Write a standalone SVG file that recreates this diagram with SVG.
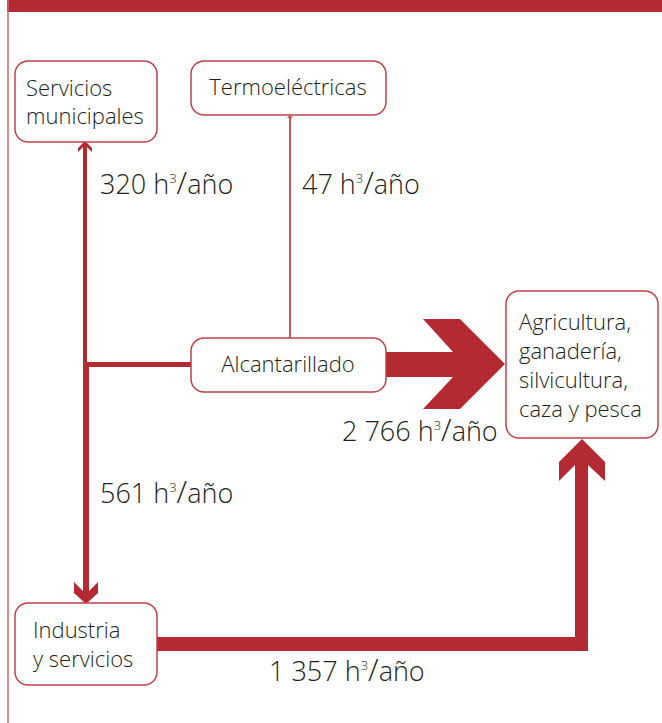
<svg xmlns="http://www.w3.org/2000/svg" width="662" height="723" viewBox="0 0 662 723">
<style>
.box{fill:#fff;stroke:#c0424a;stroke-width:1.5}
.t{font-family:"Open Sans","Noto Sans","Liberation Sans",sans-serif;font-weight:300;font-size:22px;fill:#231f20}
.lbl{font-family:"Open Sans","Noto Sans","Liberation Sans",sans-serif;font-weight:300;font-size:27px;fill:#231f20}
.sup{font-size:13px}
.sl{font-size:31px}
.flow{fill:#b32a33}
.thin{fill:#c9545a}
</style>
<rect x="0" y="0" width="662" height="723" fill="#fff"/>
<rect x="7" y="0" width="655" height="12" fill="#b32a33"/>
<line x1="8" y1="0" x2="8" y2="723" stroke="#d0646a" stroke-width="1.5"/>
<g id="connectors">
  <rect class="flow" x="83" y="146" width="4" height="221"/>
  <polygon class="flow" points="85,141 92,148 92,152 87,147 83,147 78,152 78,148"/>
  <rect class="flow" x="83" y="362" width="108" height="5"/>
  <rect class="flow" x="83" y="362" width="6" height="234"/>
  <polygon class="flow" points="74,582 83,591 89,591 98,582 98,593 86,604 74,593"/>
  <rect class="thin" x="289" y="117" width="2" height="221"/>
  <polygon class="thin" points="290,115 293,118 287,118"/>
  <polygon class="flow" points="386,352 453,352 423,319 460,319 505,364 460,409 423,409 453,377 386,377"/>
  <polygon class="flow" points="157,637 575,637 575,465 559,481 559,462 582,439 605,462 605,481 588,465 588,651 157,651"/>
</g>
<g id="servicios">
  <rect class="box" x="15" y="61" width="142" height="81" rx="13"/>
  <text class="t" x="26" y="96">Servicios</text>
  <text class="t" x="26" y="124">municipales</text>
</g>
<g id="termo">
  <rect class="box" x="191" y="61" width="195" height="54" rx="13"/>
  <text class="t" x="288" y="95" text-anchor="middle">Termoeléctricas</text>
</g>
<g id="alcantarillado">
  <rect class="box" x="191" y="338" width="195" height="54" rx="13"/>
  <text class="t" x="288" y="372" text-anchor="middle">Alcantarillado</text>
</g>
<g id="agricultura">
  <rect class="box" x="506" y="291" width="152" height="147" rx="13"/>
  <text class="t" x="519" y="330">Agricultura,</text>
  <text class="t" x="519" y="359">ganadería,</text>
  <text class="t" x="519" y="388">silvicultura,</text>
  <text class="t" x="519" y="417">caza y pesca</text>
</g>
<g id="industria">
  <rect class="box" x="15" y="603" width="142" height="82" rx="13"/>
  <text class="t" x="33" y="638">Industria</text>
  <text class="t" x="33" y="667">y servicios</text>
</g>
<g id="labels">
  <text class="lbl" x="100" y="194">320 h<tspan class="sup" dy="-11">3</tspan><tspan class="sl" dy="11">/</tspan>año</text>
  <text class="lbl" x="302" y="194">47 h<tspan class="sup" dy="-11">3</tspan><tspan class="sl" dy="11">/</tspan>año</text>
  <text class="lbl" x="342" y="441">2 766 h<tspan class="sup" dy="-11">3</tspan><tspan class="sl" dy="11">/</tspan>año</text>
  <text class="lbl" x="100" y="503">561 h<tspan class="sup" dy="-11">3</tspan><tspan class="sl" dy="11">/</tspan>año</text>
  <text class="lbl" x="269" y="681">1 357 h<tspan class="sup" dy="-11">3</tspan><tspan class="sl" dy="11">/</tspan>año</text>
</g>
</svg>
